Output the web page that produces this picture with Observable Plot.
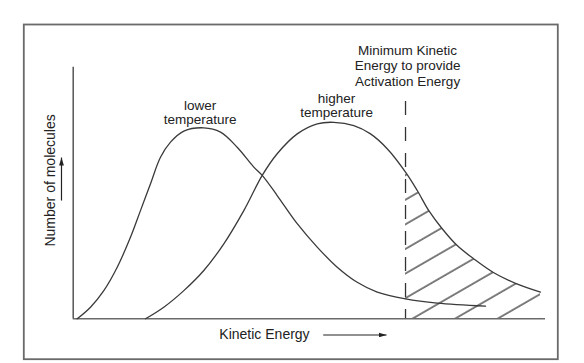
<!DOCTYPE html>
<html>
<head>
<meta charset="utf-8">
<script src="https://cdn.jsdelivr.net/npm/d3@7"></script>
<script src="https://cdn.jsdelivr.net/npm/@observablehq/plot@0.6"></script>
<style>
  body { margin: 0; background: #fff; }
  #chart svg { display: block; }
</style>
</head>
<body>
<div id="chart"></div>
<script>
// Lower-temperature distribution (kinetic energy units 0–100, molecule count units 0–100)
const lowerEnergy = [0.85, 3.66, 6.48, 9.32, 12.12, 14.24, 16.37, 18.48, 20.60, 23.42, 27.65, 31.19, 34.72, 38.24, 40.02, 43.19, 47.43, 51.66, 55.90, 60.13, 64.37, 70.36, 77.07, 87.30];
const lowerCount  = [0, 4.6, 11.2, 20.5, 32.4, 43.0, 53.7, 64.2, 70.2, 74.6, 75.9, 74.2, 68.2, 60.3, 57.0, 49.0, 37.8, 28.5, 20.5, 14.5, 10.6, 7.9, 6.2, 5.0];

// Higher-temperature distribution
const higherEnergy = [15.31, 19.18, 23.42, 27.65, 31.89, 36.12, 40.02, 43.19, 47.43, 51.66, 55.18, 59.41, 62.95, 66.48, 70.36, 72.84, 75.29, 78.13, 81.30, 84.82, 89.05, 93.65, 98.94];
const higherCount  = [0, 4.6, 11.2, 19.2, 29.8, 43.0, 57.0, 65.6, 73.5, 77.5, 78.1, 76.8, 73.5, 67.6, 58.3, 51.0, 43.0, 35.8, 29.1, 23.8, 18.3, 14.1, 10.6];

// Minimum kinetic energy for activation (dashed line)
const minEnergy = 70.36;
const dashTop = 86.4;

// Axis extents
const axisMaxX = 100;
const axisMaxY = 100;

// Text labels
const curveLabels = ["lower\ntemperature", "higher\ntemperature"];
const curveLabelX = [26.85, 55.75];
const curveLabelY = [77.4, 80.1];

const activationLabel = ["Minimum Kinetic\nEnergy to provide\nActivation Energy"];
const activationLabelX = [70.8];
const activationLabelY = [92.7];

const xTitle = ["Kinetic Energy"];
const xTitleX = [40.5];
const xTitleY = [-8.0];

const yTitle = ["Number of molecules"];
const yTitleX = [-4.87];
const yTitleY = [55.0];

// Direction arrows
const arrowX1 = [52.93, -2.48];
const arrowY1 = [-6.44, 47.0];
const arrowX2 = [66.34, -2.48];
const arrowY2 = [-6.44, 64.1];

const lower = lowerEnergy.map((x, i) => ({x, y: lowerCount[i]}));
const higher = higherEnergy.map((x, i) => ({x, y: higherCount[i]}));
const hatchData = higher.filter(d => d.x >= minEnergy);
const arrows = arrowX1.map((x1, i) => ({x1, y1: arrowY1[i], x2: arrowX2[i], y2: arrowY2[i]}));

const ink = "#222";
const lineInk = "#3a3a3a";

const chart = Plot.plot({
  width: 584,
  height: 363,
  marginLeft: 23.3,
  marginRight: 26.7,
  marginTop: 24,
  marginBottom: 4.3,
  x: {domain: [-10.46, 102.6], axis: null},
  y: {domain: [-16.06, 116.97], axis: null},
  style: {fontFamily: "'Liberation Sans', Arial, sans-serif", fontSize: "13.5px", background: "#fff", color: ink},
  marks: [
    Plot.frame({stroke: "#6a6a6a", strokeWidth: 1.8}),
    Plot.areaY(hatchData, {x: "x", y: "y", curve: "catmull-rom", fill: "url(#hatch)"}),
    Plot.ruleY([0], {x1: 0, x2: axisMaxX, stroke: "#6a6a6a", strokeWidth: 1.6}),
    Plot.ruleX([0], {y1: 0, y2: axisMaxY, stroke: "#555", strokeWidth: 1.5}),
    Plot.ruleX([minEnergy], {y1: dashTop, y2: 0, stroke: "#333", strokeWidth: 1.3, strokeDasharray: "14,12"}),
    Plot.line(lower, {x: "x", y: "y", curve: "catmull-rom", stroke: lineInk, strokeWidth: 1.3}),
    Plot.line(higher, {x: "x", y: "y", curve: "catmull-rom", stroke: lineInk, strokeWidth: 1.3}),
    Plot.text(curveLabels, {x: (d, i) => curveLabelX[i], y: (d, i) => curveLabelY[i], text: d => d, textAnchor: "middle", lineAnchor: "bottom", lineHeight: 1.03, fill: ink}),
    Plot.text(activationLabel, {x: (d, i) => activationLabelX[i], y: (d, i) => activationLabelY[i], text: d => d, textAnchor: "middle", lineAnchor: "bottom", lineHeight: 1.15, fill: ink}),
    Plot.text(xTitle, {x: (d, i) => xTitleX[i], y: (d, i) => xTitleY[i], text: d => d, textAnchor: "middle", lineAnchor: "bottom", fontSize: 14, fill: ink}),
    Plot.text(yTitle, {x: (d, i) => yTitleX[i], y: (d, i) => yTitleY[i], text: d => d, textAnchor: "middle", rotate: -90, fontSize: 14, fill: ink}),
    Plot.link(arrows, {x1: "x1", y1: "y1", x2: "x2", y2: "y2", stroke: ink, strokeWidth: 1.2, className: "dir-arrow"})
  ]
});

// Hatch pattern and filled arrowheads (styling definitions)
const svg = d3.select(chart);
const defs = svg.insert("defs", ":first-child");
const pat = defs.append("pattern")
  .attr("id", "hatch")
  .attr("patternUnits", "userSpaceOnUse")
  .attr("width", 10)
  .attr("height", 21.3)
  .attr("patternTransform", "rotate(-30)");
pat.append("line")
  .attr("x1", -1).attr("x2", 11)
  .attr("y1", 13.6).attr("y2", 13.6)
  .attr("stroke", lineInk).attr("stroke-width", 1.3);
defs.append("marker")
  .attr("id", "arrowhead")
  .attr("viewBox", "0 0 10 6")
  .attr("refX", 10).attr("refY", 3)
  .attr("markerWidth", 8).attr("markerHeight", 5)
  .attr("markerUnits", "userSpaceOnUse")
  .attr("orient", "auto")
  .append("path").attr("d", "M0,0L10,3L0,6Z").attr("fill", ink);
svg.selectAll(".dir-arrow path").attr("marker-end", "url(#arrowhead)");

document.getElementById("chart").appendChild(chart);
</script>
</body>
</html>
